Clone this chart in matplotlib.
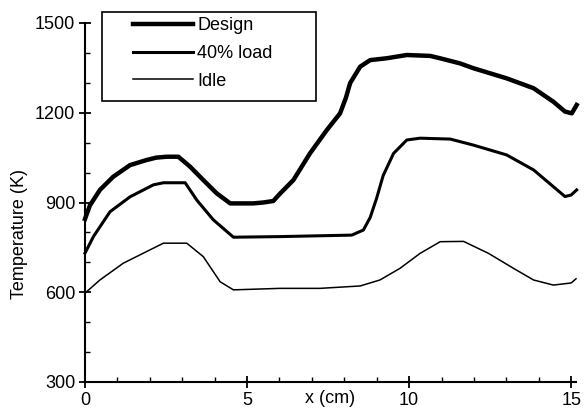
import numpy as np
import matplotlib
matplotlib.use('Agg')
import matplotlib.pyplot as plt
from matplotlib.ticker import MultipleLocator
from matplotlib.patches import Rectangle

# Temperature profiles
design_x = [0.0, 0.15, 0.46, 0.87, 1.39, 1.9, 2.2, 2.52, 2.88, 3.24, 3.65, 4.06, 4.48,
            5.19, 5.5, 5.81, 6.02, 6.43, 6.94, 7.46, 7.87, 8.05, 8.18, 8.49, 8.8, 9.3,
            9.93, 10.65, 10.96, 11.57, 11.98, 13.01, 13.84, 14.45, 14.81, 15.02, 15.17]
design_T = [845, 890, 942, 986, 1025, 1042, 1050, 1053, 1053, 1020, 975, 931, 897,
            897, 900, 905, 930, 975, 1064, 1142, 1198, 1250, 1299, 1354, 1376, 1382,
            1393, 1390, 1382, 1365, 1349, 1315, 1282, 1237, 1204, 1198, 1226]

load40_x = [0.0, 0.26, 0.77, 1.39, 2.11, 2.42, 3.09, 3.45, 3.96, 4.58, 6.02, 8.23,
            8.59, 8.8, 9.0, 9.2, 9.52, 9.93, 10.34, 11.27, 11.98, 13.01, 13.84, 14.45,
            14.81, 15.0, 15.17]
load40_T = [731, 786, 869, 919, 959, 966, 966, 908, 842, 784, 786, 791,
            808, 850, 915, 990, 1064, 1109, 1115, 1112, 1092, 1059, 1009, 953,
            920, 925, 942]

idle_x = [0.0, 0.46, 1.18, 1.9, 2.42, 3.14, 3.65, 4.17, 4.58, 6.02, 7.25, 8.49, 9.1,
          9.72, 10.34, 10.96, 11.68, 12.45, 13.22, 13.84, 14.45, 15.0, 15.15]
idle_T = [597, 641, 697, 736, 764, 764, 719, 635, 608, 613, 613, 621, 641,
          680, 730, 769, 770, 730, 680, 641, 624, 631, 645]

plt.rcParams['font.family'] = ['Liberation Sans', 'DejaVu Sans']
fs = 13

fig = plt.figure(figsize=(5.86, 4.13), dpi=100)
ax = fig.add_axes([85 / 586, 31 / 413, 491 / 586, 359 / 413])

ax.plot(design_x, design_T, color='black', lw=3.2, label='Design',
        solid_joinstyle='round', clip_on=False)
ax.plot(load40_x, load40_T, color='black', lw=2.2, label='40% load',
        solid_joinstyle='round', clip_on=False)
ax.plot(idle_x, idle_T, color='black', lw=1.1, label='Idle',
        solid_joinstyle='round', clip_on=False)

ax.set_xlim(0, 15.15)
ax.set_ylim(300, 1500)
ax.xaxis.set_major_locator(MultipleLocator(5))
ax.xaxis.set_minor_locator(MultipleLocator(1))
ax.yaxis.set_major_locator(MultipleLocator(300))
ax.yaxis.set_minor_locator(MultipleLocator(100))

for s in ['top', 'right']:
    ax.spines[s].set_visible(False)
for s in ['left', 'bottom']:
    ax.spines[s].set_linewidth(1.5)

ax.tick_params(which='major', direction='inout', length=8, width=1.3,
               labelsize=fs, pad=3)
ax.tick_params(which='minor', direction='in', length=3.5, width=1.0)

ax.text(7.55, -0.022, 'x (cm)', transform=ax.get_xaxis_transform(),
        ha='center', va='top', fontsize=fs)
fig.text(20 / 586, 1 - 234 / 413, 'Temperature (K)', rotation=90,
         ha='center', va='center', fontsize=fs)

# legend box drawn as a separate frame, entries placed inside it
fig.patches.append(Rectangle((102 / 586, 1 - 101 / 413), 214 / 586, 89 / 413,
                             transform=fig.transFigure, fill=False,
                             edgecolor='black', lw=1.2))
leg = ax.legend(loc='upper left', bbox_to_anchor=(133 / 586, 1 - 17 / 413),
                bbox_transform=fig.transFigure, borderaxespad=0, borderpad=0,
                fontsize=fs, frameon=False,
                handlelength=3.3, handletextpad=0.25, labelspacing=0.6)

fig.savefig('out.png', dpi=100)
